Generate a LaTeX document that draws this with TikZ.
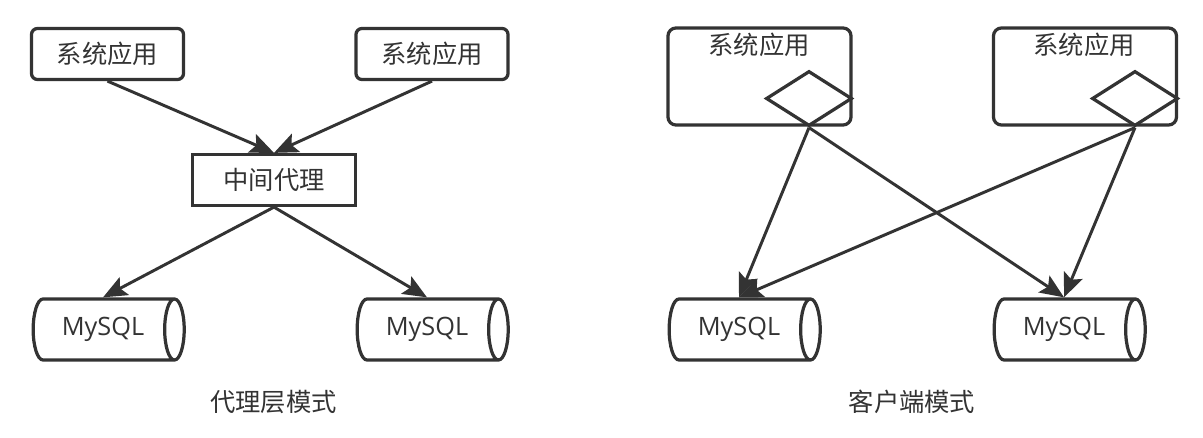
\documentclass[tikz,border=0pt]{standalone}
\usepackage{fontspec}
\setmainfont{Noto Sans CJK SC}
\newfontfamily\latinfont{Open Sans}
\usepackage{tikz}
\usetikzlibrary{shapes.geometric,arrows.meta}
\definecolor{darkline}{HTML}{333333}

\begin{document}
\begin{tikzpicture}[x=0.025cm,y=-0.025cm,
	every node/.style={text=darkline,font=\fontsize{18}{22}\selectfont},
	app/.style={draw=darkline,line width=2.3pt,rounded corners=0.15cm,minimum width=3.8cm,minimum height=1.275cm,inner sep=0pt},
	proxy/.style={draw=darkline,line width=2.3pt,minimum width=4.075cm,minimum height=1.275cm,inner sep=0pt},
	client/.style={draw=darkline,line width=2.3pt,rounded corners=0.2cm,minimum width=4.575cm,minimum height=2.425cm,inner sep=0pt},
	port/.style={shape=diamond,draw=darkline,line width=2.3pt,minimum width=2.15cm,minimum height=1.375cm,inner sep=0pt},
	db/.style={shape=cylinder,draw=darkline,line width=2.3pt,aspect=0.8,minimum height=3.775cm,minimum width=1.525cm,inner sep=0pt,font=\latinfont\fontsize{18}{22}\selectfont},
	link/.style={draw=darkline,line width=2.1pt,-{Stealth[length=0.6cm,width=0.5cm,inset=0.12cm]}}]
	\useasboundingbox (0,0) rectangle (1203,438);

	\node[app] (app1) at (107.5,54)     {系统应用};
	\node[app] (app2) at (432,54)     {系统应用};
	\node[proxy] (proxy) at (274,180)     {中间代理};
	\node[db] (db1) at (103,329.5)     {MySQL};
	\node[db] (db2) at (427,329.5)     {MySQL};
	\node (cap1) at (273.5,402)     {代理层模式};

	\node[client] (cli1) at (759.5,76.5)     {};
	\node (cli1t) at (759,45)     {系统应用};
	\node[port] (port1) at (809,98.5)     {};
	\node[client] (cli2) at (1085,76.5)     {};
	\node (cli2t) at (1084,45)     {系统应用};
	\node[port] (port2) at (1135,98.5)     {};
	\node[db] (db3) at (739,329.5)     {MySQL};
	\node[db] (db4) at (1064,329.5)     {MySQL};
	\node (cap2) at (912,402)     {客户端模式};

	\path (app1.south) edge[link] (proxy.north);
	\path (app2.south) edge[link] (proxy.north);
	\path (proxy.south) edge[link] (db1.north);
	\path (proxy.south) edge[link] (db2.north);
	\path (port1.south) edge[link] (db3.north);
	\path (port1.south) edge[link] (db4.north);
	\path (port2.south) edge[link] (db3.north);
	\path (port2.south) edge[link] (db4.north);

\end{tikzpicture}
\end{document}
